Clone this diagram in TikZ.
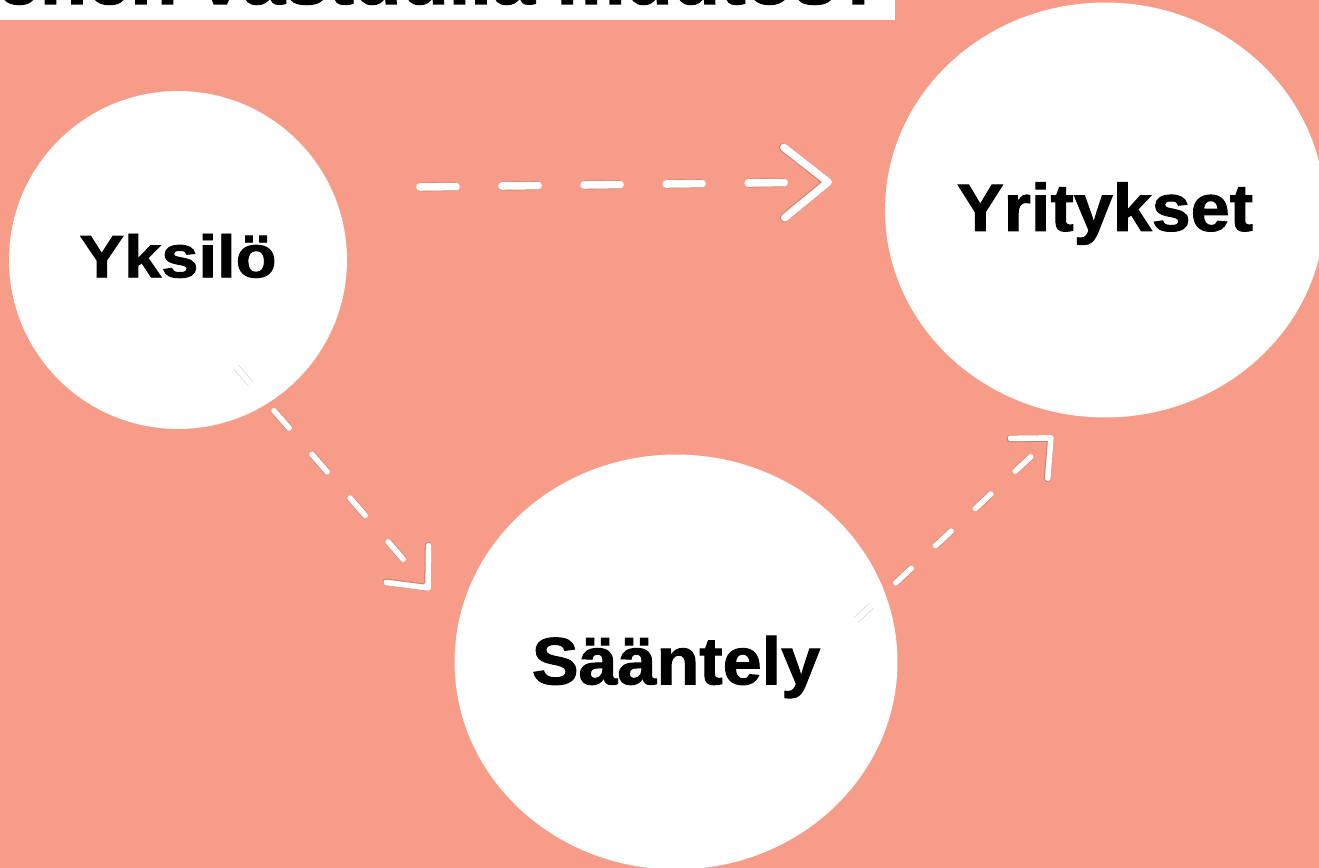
\documentclass[tikz,border=0pt]{standalone}
\usepackage{fontspec}
\newfontfamily\headfont[FakeStretch=1.05,FakeBold=1.5]{Liberation Sans Bold}
\newfontfamily\wideheadfont[FakeStretch=1.12,FakeBold=1.5]{Liberation Sans Bold}
\usetikzlibrary{shapes.geometric,arrows.meta}
\definecolor{salmon}{RGB}{246,156,136}
\tikzset{
  bubble/.style={fill=white, ellipse, inner sep=0pt, text depth=0.22em, font=\headfont\fontsize{38}{40}\selectfont},
  flow/.style 2 args={white, line width=#1, line cap=round, dash pattern=#2,
    preaction={draw=black, opacity=0.18, line width=#1+0.7pt, dash pattern=#2}},
}

\begin{document}
\begin{tikzpicture}[x=0.02cm,y=-0.02cm]
\useasboundingbox (0,0) rectangle (1319,868);
\clip (0,0) rectangle (1319,868);
\fill[salmon] (0,0) rectangle (1319,868);
% title strip, cut off at the top
\fill[white] (0,0) rectangle (895,20);
\begin{scope}
\clip (0,0) rectangle (895,20);
\node[anchor=base east, inner sep=0pt, font=\headfont\fontsize{42}{44}\selectfont] (title) at (884,4) {Kenen vastuulla muutos?};
\end{scope}
% the three actors
\node[bubble, minimum width=6.76cm, minimum height=6.76cm, text depth=0.5em, font=\wideheadfont\fontsize{34}{36}\selectfont] (yksilo) at (178,260) {Yksilö};
\node[bubble, minimum width=8.8cm, minimum height=8.3cm, text depth=0.38em] (yritykset) at (1105,210) {Yritykset};
\node[bubble, minimum width=8.86cm, minimum height=8.3cm] (saantely) at (676,662) {Sääntely};
% hand drawn arrows
\coordinate (A1) at (420,187);
\coordinate (B1) at (832,182);
\coordinate (A2) at (236,367);
\coordinate (B2) at (430,590);
\coordinate (A3) at (856,620);
\coordinate (B3) at (1053,436);
\draw[flow={4.3pt}{on 20.5pt off 26.2pt}, -{Straight Barb[length=25pt,width=40pt,round]}] (A1) -- (B1);
\draw[flow={3.2pt}{on 13pt off 20pt}, -{Straight Barb[length=18pt,width=32pt,round]}] (A2) -- (B2);
\draw[flow={3.2pt}{on 12pt off 19pt}, -{Straight Barb[length=17pt,width=31pt,round]}] (A3) -- (B3);
\end{tikzpicture}
\end{document}
